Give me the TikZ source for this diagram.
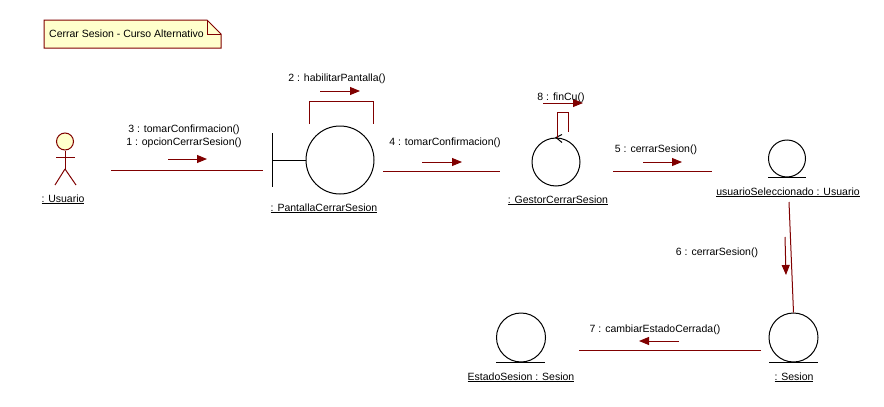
\documentclass[tikz,border=0pt]{standalone}
\usepackage{fontspec}
\setmainfont{Liberation Sans}
\usetikzlibrary{arrows.meta}
\definecolor{umlred}{HTML}{800000}
\definecolor{notefill}{HTML}{FFFFCC}
\begin{document}
\begin{tikzpicture}[x=1pt,y=-1pt,
  txt/.style={font=\fontsize{10.5}{12}\selectfont, inner sep=0pt, text=black, anchor=base},
  obj/.style={circle, draw=black, line width=1pt, inner sep=0pt},
  shapeline/.style={draw=black, line width=1pt},
  link/.style={draw=umlred, line width=1pt},
  msg/.style={draw=umlred, line width=1pt, -{Triangle[length=10pt,width=8pt]}},
]
\useasboundingbox[fill=white] (0,0) rectangle (884,407);

% note
\draw[umlred, fill=notefill, line width=1pt] (44,20) -- (207,20) -- (221,34) -- (221,48) -- (44,48) -- cycle;
\draw[umlred, line width=1pt] (207,20) -- (207,34) -- (221,34);
\node[txt, anchor=base west] (note) at (49,37) {Cerrar Sesion - Curso Alternativo};

% actor
\node[circle, draw=umlred, fill=notefill, line width=1pt, minimum size=17pt, inner sep=0pt] (head) at (65,141.5) {};
\coordinate (hip) at (65,169);
\draw[link] (head.south) -- (hip);
\draw[link] (56,157) -- (75,157);
\draw[link] (hip) -- (55,185);
\draw[link] (hip) -- (76,185);
\node[txt] (usuarioLbl) at (63,202) {\underline{: Usuario}};

% boundary : PantallaCerrarSesion
\node[obj, minimum size=68pt] (pantalla) at (340,160) {};
\coordinate (bTop) at (272,133);
\coordinate (bBot) at (272,187);
\draw[shapeline] (bTop) -- (bBot);
\draw[shapeline] (pantalla.west -| bTop) -- (pantalla.west);
\node[txt] (pantallaLbl) at (324,211) {\underline{: PantallaCerrarSesion}};

% self loop 2
\coordinate (pl1) at (309,124);
\coordinate (pl2) at (373,124);
\draw[link] (pl1) -- (309,101) -- (373,101) -- (pl2);
\coordinate (m2a) at (320,91);
\coordinate (m2b) at (360,91);
\draw[msg] (m2a) -- (m2b);
\node[txt] (m2Lbl) at (337,81) {2 : habilitarPantalla()};

% link usuario - pantalla
\coordinate (l1a) at (111,170);
\coordinate (l1b) at (263,170);
\draw[link] (l1a) -- (l1b);
\coordinate (m1a) at (168,159);
\coordinate (m1b) at (207,159);
\draw[msg] (m1a) -- (m1b);
\node[txt] (m3Lbl) at (184,132) {3 : tomarConfirmacion()};
\node[txt] (m1Lbl) at (184,145) {1 : opcionCerrarSesion()};

% control : GestorCerrarSesion
\node[obj, minimum size=48pt] (gestor) at (556,162) {};
\draw[shapeline] (562,134.5) -- (gestor.north) -- (562,142.5);
\node[txt] (gestorLbl) at (558,203) {\underline{: GestorCerrarSesion}};
\coordinate (gl1) at (557,138);
\coordinate (gl2) at (568,132);
\draw[link] (gl1) -- (557,112) -- (568,112) -- (gl2);
\coordinate (m8a) at (543,103);
\coordinate (m8b) at (583,103);
\draw[msg] (m8a) -- (m8b);
\node[txt] (m8Lbl) at (561,100) {8 : finCu()};

% link pantalla - gestor
\coordinate (l4a) at (383,171);
\coordinate (l4b) at (500,171);
\draw[link] (l4a) -- (l4b);
\coordinate (m4a) at (422,162);
\coordinate (m4b) at (462,162);
\draw[msg] (m4a) -- (m4b);
\node[txt] (m4Lbl) at (445,145) {4 : tomarConfirmacion()};

% entity usuarioSeleccionado
\node[obj, minimum size=37pt] (usel) at (787,158.5) {};
\draw[shapeline] (768,177) -- (806,177);
\node[txt] (uselLbl) at (788,195) {\underline{usuarioSeleccionado : Usuario}};

% link gestor - usuarioSeleccionado
\coordinate (l5a) at (613,171);
\coordinate (l5b) at (712,171);
\draw[link] (l5a) -- (l5b);
\coordinate (m5a) at (643,162);
\coordinate (m5b) at (682,162);
\draw[msg] (m5a) -- (m5b);
\node[txt] (m5Lbl) at (656,152) {5 : cerrarSesion()};

% entity Sesion
\node[obj, minimum size=49pt] (sesion) at (793.5,337.5) {};
\draw[shapeline] (769,362) -- (818,362);
\node[txt] (sesionLbl) at (794,380) {\underline{: Sesion}};

% link usuarioSeleccionado - Sesion
\coordinate (l6a) at (789,202);
\draw[link] (l6a) -- (sesion.north);
\coordinate (m6a) at (785,237);
\coordinate (m6b) at (786,275);
\draw[msg] (m6a) -- (m6b);
\node[txt] (m6Lbl) at (717,255) {6 : cerrarSesion()};

% entity EstadoSesion
\node[obj, minimum size=49pt] (estado) at (521,337.5) {};
\draw[shapeline] (496,362) -- (545,362);
\node[txt] (estadoLbl) at (521,380) {\underline{EstadoSesion : Sesion}};

% link Sesion - EstadoSesion
\coordinate (l7a) at (761,350);
\coordinate (l7b) at (579,350);
\draw[link] (l7a) -- (l7b);
\coordinate (m7a) at (679,341);
\coordinate (m7b) at (639,341);
\draw[msg] (m7a) -- (m7b);
\node[txt] (m7Lbl) at (655,332) {7 : cambiarEstadoCerrada()};
\end{tikzpicture}
\end{document}
